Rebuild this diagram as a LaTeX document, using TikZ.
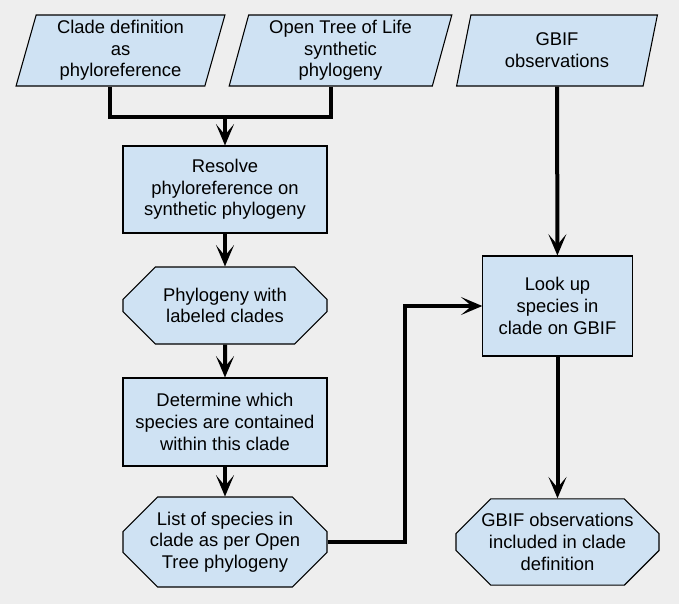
\documentclass[tikz,border=0pt]{standalone}
\usepackage{fontspec}
\setmainfont{Liberation Sans}
\usetikzlibrary{shapes,arrows.meta,calc}
\definecolor{boxblue}{HTML}{CFE2F3}
\definecolor{paper}{HTML}{EEEEEE}
\tikzset{
>={Stealth[length=16pt,width=13.5pt,inset=8pt]},
base/.style={draw=black, line width=0.8pt, fill=boxblue, align=center,
             font=\fontsize{13.8}{16.3}\selectfont, inner sep=0pt},
input/.style={base, trapezium, trapezium left angle=76, trapezium right angle=104,
             trapezium stretches=true, minimum height=53.25pt},
process/.style={base, rectangle, minimum width=153pt, minimum height=65.25pt},
result/.style={base, chamfered rectangle, chamfered rectangle xsep=15pt,
             chamfered rectangle ysep=11pt, minimum width=153pt, minimum height=58pt},
link/.style={line width=3pt},
}

\begin{document}
\begin{tikzpicture}[x=0.75pt, y=-0.75pt]

    \fill[paper] (0,0) rectangle (679,604);

    \node[input, minimum width=156.75pt] (n0) at(120.5, 50.5) {Clade definition\\as\\phyloreference};
    \node[input, minimum width=167.25pt] (n1) at(340.5, 50.5) {Open Tree of Life\\synthetic\\phylogeny};
    \node[input, minimum width=151.5pt] (n2) at(557, 50.5) {GBIF\\observations};

    \node[process] (n3) at(225, 189.5) {Resolve\\phyloreference on\\synthetic phylogeny};
    \node[result, minimum height=57.75pt] (n4) at(225, 305.5) {Phylogeny with\\labeled clades};
    \node[process, minimum height=66pt] (n5) at(225, 422) {Determine which\\species are contained\\within this clade};
    \node[result, minimum height=58.5pt] (n6) at(225, 542) {List of species in\\clade as per Open\\Tree phylogeny};

    \node[process, minimum width=112pt, minimum height=75pt] (n7) at(557.5, 306) {Look up\\species in\\clade on GBIF};
    \node[result, minimum width=152.25pt, minimum height=58.5pt] (n8) at(557.5, 542) {GBIF observations\\included in clade\\definition};

    \coordinate (join) at(225, 117);
    \coordinate (turn) at(405, 306);

    \draw[link] (n0.bottom side) |- (join);
    \draw[link] (n1.bottom side) |- (join);
    \draw[link, ->] (join) to (n3);

    \draw[link, ->] (n3) to (n4);
    \draw[link, ->] (n4) to (n5);
    \draw[link, ->] (n5) to (n6);

    \draw[link, ->] (n6.east) -| (turn) to (n7.west);
    \draw[link, ->] (n2) to (n7);
    \draw[link, ->] (n7) to (n8);

\end{tikzpicture}
\end{document}
